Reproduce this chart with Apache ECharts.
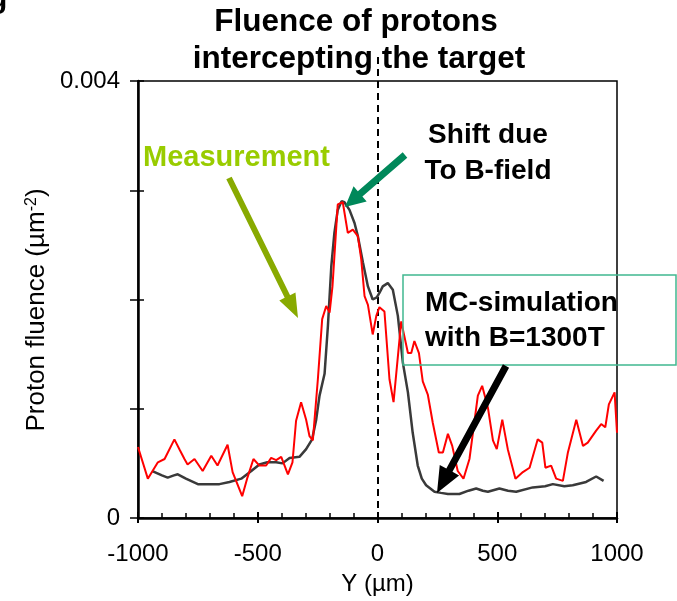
<!DOCTYPE html>
<html><head><meta charset="utf-8">
<script src="https://cdn.jsdelivr.net/npm/echarts@6/dist/echarts.min.js"></script>
<style>html,body{margin:0;padding:0;background:#fff}#c{width:677px;height:601px}</style>
</head><body><div id="c"></div>
<script>
const xTicks = [-1000, -500, 0, 500, 1000];
const yTickLabels = ['0', '', '', '', '0.004'];

const measX = [-1000,-959,-917,-889,-848,-825,-806,-793,-764,-730,-694,-668,-626,-605,-565,-543,-518,-493,-465,-444,-423,-402,-374,-355,-340,-319,-298,-284,-270,-249,-231,-214,-200,-188,-166,-145,-124,-103,-82,-68,-54,-40,-20,-5,8,29,50,67,99,127,141,154,173,189,210,231,256,273,294,312,335,359,384,419,437,461,482,498,521,544,576,607,635,669,688,701,725,746,774,795,830,858,878,913,934,951,966,990,1000];
const measY = [0.00065,0.00036,0.00051,0.00054,0.00072,0.00062,0.00054,0.00049,0.00054,0.00043,0.00057,0.00048,0.00067,0.00042,0.00020,0.00037,0.00054,0.00048,0.00048,0.00055,0.00053,0.00056,0.00040,0.00051,0.00089,0.00106,0.00090,0.00075,0.00071,0.00127,0.00182,0.00194,0.00188,0.00212,0.00287,0.00289,0.00261,0.00264,0.00258,0.00237,0.00203,0.00195,0.00168,0.00185,0.00193,0.00189,0.00127,0.00106,0.00180,0.00151,0.00151,0.00162,0.00151,0.00125,0.00113,0.00087,0.00060,0.00060,0.00077,0.00066,0.00043,0.00036,0.00054,0.00112,0.00121,0.00101,0.00071,0.00063,0.00090,0.00063,0.00036,0.00042,0.00046,0.00072,0.00069,0.00046,0.00048,0.00036,0.00034,0.00060,0.00090,0.00066,0.00069,0.00080,0.00086,0.00083,0.00104,0.00115,0.00078];

const simX = [-940,-900,-876,-850,-834,-800,-750,-700,-660,-618,-569,-527,-493,-460,-423,-397,-367,-326,-298,-273,-256,-242,-221,-207,-193,-180,-166,-150,-138,-117,-96,-82,-61,-40,-20,-3,8,22,43,64,85,106,127,147,168,185,203,238,265,294,342,380,412,440,461,509,545,579,648,700,732,780,815,871,913,944];
const simY = [0.00043,0.00039,0.00037,0.00039,0.00040,0.00036,0.00031,0.00031,0.00031,0.00033,0.00036,0.00043,0.00049,0.00051,0.00051,0.00050,0.00055,0.00056,0.00063,0.00072,0.00090,0.00112,0.00132,0.00176,0.00230,0.00261,0.00282,0.00290,0.00289,0.00282,0.00270,0.00258,0.00234,0.00212,0.00200,0.00202,0.00206,0.00212,0.00215,0.00209,0.00185,0.00142,0.00115,0.00078,0.00048,0.00036,0.00030,0.00024,0.00023,0.00022,0.00022,0.00025,0.00027,0.00025,0.00024,0.00027,0.00025,0.00024,0.00028,0.00029,0.00031,0.00029,0.00030,0.00033,0.00038,0.00034];

function arrow(x1, y1, x2, y2, w, hw, hl, color) {
  const dx = x2 - x1, dy = y2 - y1, L = Math.hypot(dx, dy);
  const ux = dx / L, uy = dy / L, nx = -uy, ny = ux;
  const bx = x2 - ux * hl, by = y2 - uy * hl;
  const pts = [
    [x1 + nx * w / 2, y1 + ny * w / 2],
    [bx + nx * w / 2, by + ny * w / 2],
    [bx + nx * hw / 2, by + ny * hw / 2],
    [x2, y2],
    [bx - nx * hw / 2, by - ny * hw / 2],
    [bx - nx * w / 2, by - ny * w / 2],
    [x1 - nx * w / 2, y1 - ny * w / 2]
  ];
  return { type: 'polygon', z: 100, shape: { points: pts }, style: { fill: color } };
}

const font = '"Liberation Sans", Arial, sans-serif';
const chart = echarts.init(document.getElementById('c'), null, { renderer: 'canvas' });
const graphics = [
    { type: 'text', x: -11, y: -15, style: { text: 'g', font: 'bold 30px ' + font, fill: '#000' } },
    { type: 'text', x: 356, y: 22, style: { text: 'Fluence of protons', font: 'bold 31.5px ' + font, fill: '#000', textAlign: 'center', textVerticalAlign: 'middle' } },
    { type: 'text', x: 359, y: 59, style: { text: 'intercepting the target', font: 'bold 31.5px ' + font, fill: '#000', textAlign: 'center', textVerticalAlign: 'middle' } },
    { type: 'text', x: 37, y: 310, rotation: Math.PI / 2, style: {
        text: 'Proton fluence (µm{s|-2})', font: '26px ' + font, fill: '#000', textAlign: 'center', textVerticalAlign: 'middle',
        rich: { s: { fontSize: 16, fontFamily: font, verticalAlign: 'top', padding: [0, 0, 11, 0] } } } },
    { type: 'text', x: 143, y: 158, style: { text: 'Measurement', font: 'bold 29px ' + font, fill: '#99CC00', textVerticalAlign: 'middle' } },
    { type: 'text', x: 488, y: 135, style: { text: 'Shift due', font: 'bold 28px ' + font, fill: '#000', textAlign: 'center', textVerticalAlign: 'middle' } },
    { type: 'text', x: 488, y: 171, style: { text: 'To B-field', font: 'bold 28px ' + font, fill: '#000', textAlign: 'center', textVerticalAlign: 'middle' } },
    { type: 'rect', z: 90, shape: { x: 403, y: 275, width: 273, height: 90 }, style: { fill: 'none', stroke: '#40B890', lineWidth: 1.5 } },
    { type: 'text', z: 95, x: 425, y: 303, style: { text: 'MC-simulation', font: 'bold 28px ' + font, fill: '#000', textVerticalAlign: 'middle' } },
    { type: 'text', z: 95, x: 425, y: 338, style: { text: 'with B=1300T', font: 'bold 28px ' + font, fill: '#000', textVerticalAlign: 'middle' } },
    arrow(229, 178, 298, 318, 6, 18, 24, '#88AA00'),
    arrow(405, 155, 345, 207, 7, 20, 20, '#00885A'),
    arrow(506, 366, 437, 493, 7, 22, 26, '#000')
];
chart.setOption({
  animation: false,
  backgroundColor: '#fff',
  grid: { left: 138, right: 60, top: 81, bottom: 82, show: true, borderColor: '#000', borderWidth: 1.5, backgroundColor: 'transparent' },
  xAxis: [{
    type: 'value', min: -1000, max: 1000, interval: 500,
    axisLine: { onZero: false, lineStyle: { color: '#000', width: 2.5 } },
    axisTick: { inside: true, length: 6, lineStyle: { color: '#000', width: 2 } },
    minorTick: { show: true, splitNumber: 5, length: 5, lineStyle: { color: '#000', width: 1.5 } },
    splitLine: { show: false },
    axisLabel: { margin: 24, fontSize: 24, color: '#000', fontFamily: font,
      formatter: v => xTicks.includes(v) ? String(v) : '' },
    name: 'Y (µm)', nameLocation: 'middle', nameGap: 54,
    nameTextStyle: { fontSize: 24, color: '#000', fontFamily: font }
  }, {
    type: 'value', min: -1000, max: 1000, interval: 500, position: 'bottom',
    axisLine: { show: false, onZero: false }, axisLabel: { show: false }, splitLine: { show: false },
    axisTick: { length: 5, lineStyle: { color: '#000', width: 2 } }
  }],
  yAxis: [{
    type: 'value', min: 0, max: 0.004, interval: 0.001,
    axisLine: { show: true, onZero: false, lineStyle: { color: '#000', width: 2.5 } },
    axisTick: { show: true, length: 8, lineStyle: { color: '#000', width: 1.5 } },
    splitLine: { show: false },
    axisLabel: { margin: 18, fontSize: 24, color: '#000', fontFamily: font,
      formatter: (v, i) => yTickLabels[i] || '' }
  }, {
    type: 'value', min: 0, max: 0.004, interval: 0.001, position: 'left',
    axisLine: { show: false, onZero: false }, axisLabel: { show: false }, splitLine: { show: false },
    axisTick: { show: true, inside: true, length: 6, lineStyle: { color: '#000', width: 1.5 } }
  }],
  series: [{
    name: 'MC', type: 'line', showSymbol: false, symbol: 'none', z: 3,
    data: simX.map((x, i) => [x, simY[i]]),
    lineStyle: { color: '#3a3a3a', width: 2.5 }
  }, {
    name: 'Measurement', type: 'line', showSymbol: false, symbol: 'none', z: 4,
    data: measX.map((x, i) => [x, measY[i]]),
    lineStyle: { color: '#ff0000', width: 2 }
  }],
  graphic: graphics
});
// dashed vertical line at Y = 0, extending above the plot into the title
const p0 = chart.convertToPixel({ gridIndex: 0 }, [0, 0]);
graphics.push({ type: 'line', z: 1, shape: { x1: Math.round(p0[0]), y1: 57, x2: Math.round(p0[0]), y2: p0[1] },
  style: { stroke: '#000', lineWidth: 2, lineDash: [7, 5] } });
chart.setOption({ graphic: graphics });
</script></body></html>
